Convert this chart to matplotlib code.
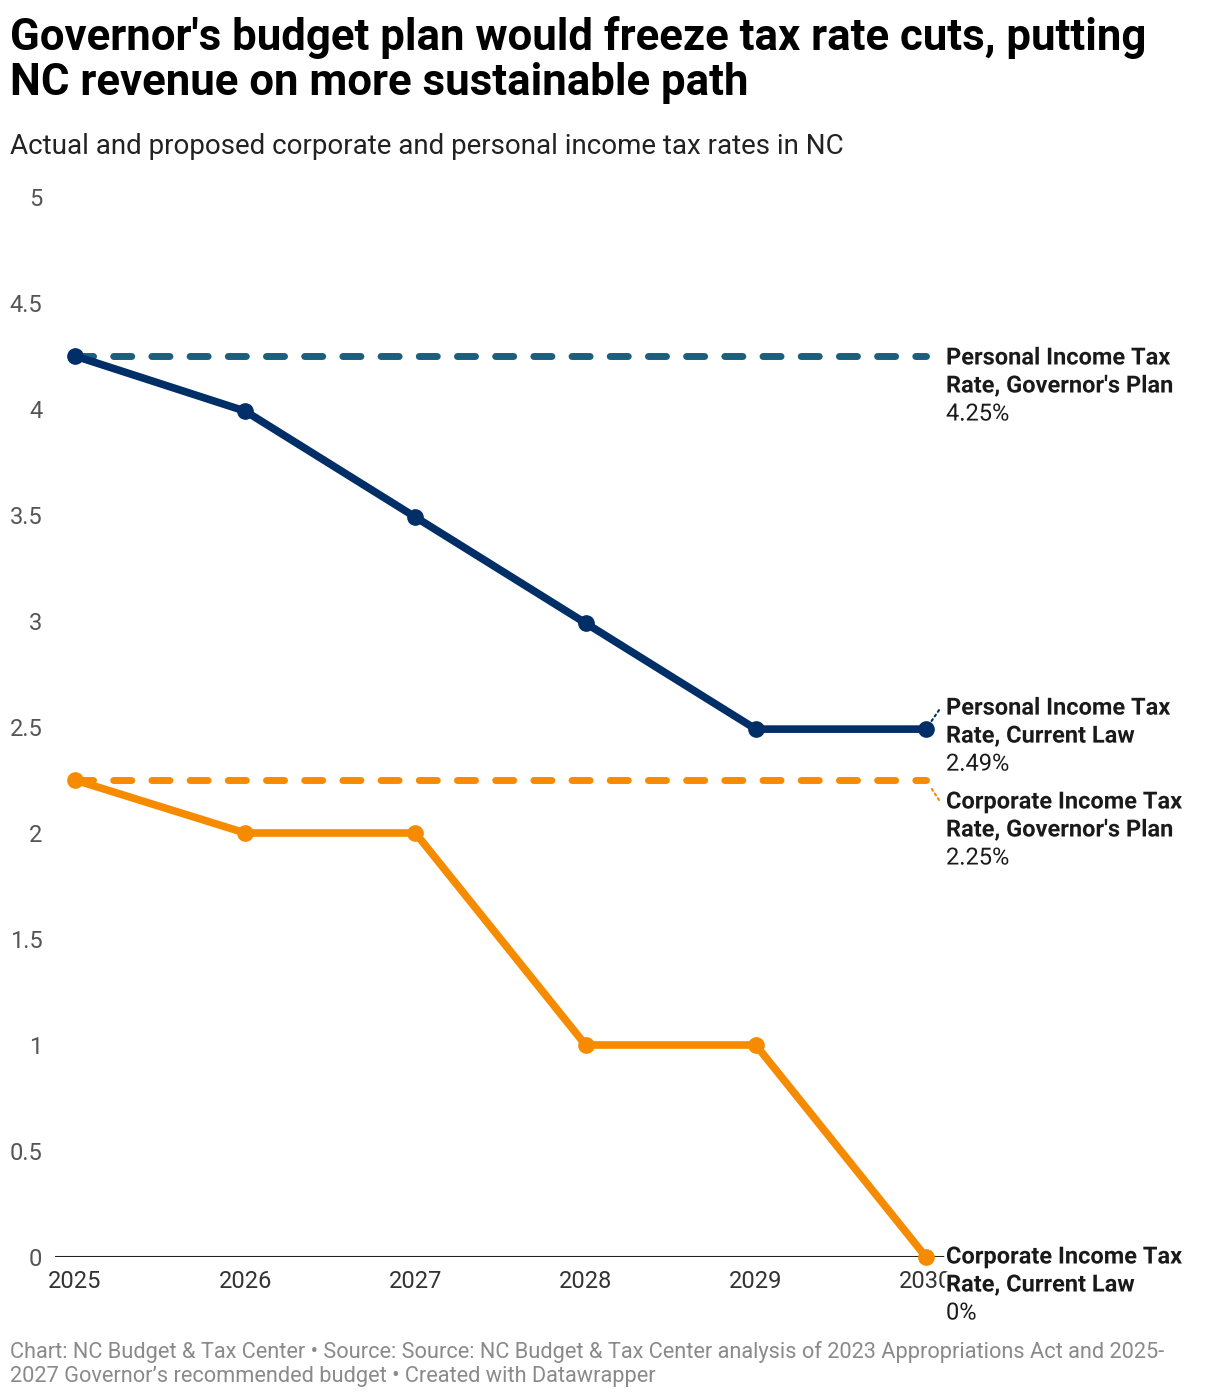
#!/usr/bin/env python3
"""NC income tax rates: current law vs governor's plan."""

import matplotlib.pyplot as plt
import matplotlib.patheffects as pe

plt.rcParams["font.family"] = ["Roboto", "DejaVu Sans"]

years = [2025, 2026, 2027, 2028, 2029, 2030]
pit_current = [4.25, 3.99, 3.49, 2.99, 2.49, 2.49]
pit_plan = [4.25, 4.25, 4.25, 4.25, 4.25, 4.25]
cit_current = [2.25, 2.0, 2.0, 1.0, 1.0, 0.0]
cit_plan = [2.25, 2.25, 2.25, 2.25, 2.25, 2.25]

y_ticks = [0, 0.5, 1, 1.5, 2, 2.5, 3, 3.5, 4, 4.5, 5]
y_tick_labels = ["0", "0.5", "1", "1.5", "2", "2.5", "3", "3.5", "4", "4.5", "5"]

NAVY = "#002e66"
TEAL = "#1b5f7c"
ORANGE = "#f68b00"

W, H = 1220, 1400
fig = plt.figure(figsize=(W / 100, H / 100), dpi=100)
ax = fig.add_axes([55 / W, (H - 1257) / H, 895 / W, (1257 - 197) / H])

px_year = (926 - 75) / 5
ax.set_xlim(2025 - 20 / px_year, 2030 + 24 / px_year)
ax.set_ylim(0, 5)

for s in ax.spines.values():
    s.set_visible(False)
ax.axhline(0, color="#222222", lw=1.5, zorder=1)

ax.set_yticks(y_ticks)
ax.set_yticklabels(y_tick_labels)
ax.set_xticks(years)
ax.set_xticklabels([str(y) for y in years])
ax.tick_params(axis="y", length=0, pad=9, labelsize=17, labelcolor="#555555")
ax.tick_params(axis="x", length=0, pad=9, labelsize=17, labelcolor="#333333")

dash_kw = dict(lw=5, linestyle=(0, (2.6, 2.9)), dash_capstyle="round", zorder=2)
ax.plot(years, pit_plan, color=TEAL, **dash_kw)
ax.plot(years, cit_plan, color=ORANGE, **dash_kw)

solid_kw = dict(lw=5.5, marker="o", markersize=11, solid_capstyle="round",
                zorder=3, clip_on=False)
ax.plot(years, pit_current, color=NAVY, **solid_kw)
ax.plot(years, cit_current, color=ORANGE, **solid_kw)

# (line 1, line 2, value, y, pixel shift of first line, connector colour)
labels = [
    ("Personal Income Tax", "Rate, Governor's Plan", "4.25%", pit_plan[-1], -2, None),
    ("Personal Income Tax", "Rate, Current Law", "2.49%", pit_current[-1], 21, NAVY),
    ("Corporate Income Tax", "Rate, Governor's Plan", "2.25%", cit_plan[-1], -22, ORANGE),
    ("Corporate Income Tax", "Rate, Current Law", "0%", cit_current[-1], 0, None),
]
halo = [pe.withStroke(linewidth=4, foreground="white")]
for line1, line2, value, yv, dy, conn in labels:
    for i, (txt, weight) in enumerate([(line1, "bold"), (line2, "bold"), (value, "normal")]):
        ax.annotate(txt, xy=(years[-1], yv), xytext=(20, dy - 28 * i),
                    textcoords="offset pixels", ha="left", va="center",
                    fontsize=17, fontweight=weight, color="#1a1a1a",
                    annotation_clip=False, path_effects=halo, zorder=5)
    if conn is not None:
        sign = 1 if dy > 0 else -1
        ax.annotate("", xy=(years[-1], yv), xytext=(13, dy - sign * 2),
                    textcoords="offset pixels", annotation_clip=False,
                    arrowprops=dict(arrowstyle="-", linestyle=":", color=conn,
                                    lw=1.5, shrinkA=0, shrinkB=7))

fig.text(10 / W, 1 - 60 / H,
         "Governor's budget plan would freeze tax rate cuts, putting\n"
         "NC revenue on more sustainable path",
         ha="left", va="center", fontsize=31.5, fontweight="bold",
         color="#000000", linespacing=1.12)
fig.text(10 / W, 1 - 147 / H,
         "Actual and proposed corporate and personal income tax rates in NC",
         ha="left", va="center", fontsize=20, color="#222222")
fig.text(10 / W, 1 - 1364 / H,
         "Chart: NC Budget & Tax Center \u2022 Source: Source: NC Budget & Tax Center "
         "analysis of 2023 Appropriations Act and 2025-\n"
         "2027 Governor\u2019s recommended budget \u2022 Created with Datawrapper",
         ha="left", va="center", fontsize=15.7, color="#8a8a8a", linespacing=1.2)

fig.savefig("out.png", dpi=100)
